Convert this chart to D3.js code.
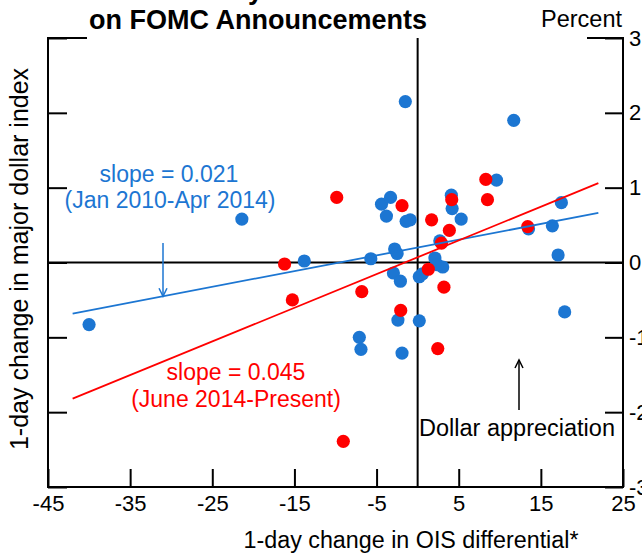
<!DOCTYPE html>
<html>
<head>
<meta charset="utf-8">
<script src="https://cdn.jsdelivr.net/npm/d3@7"></script>
<style>
  html, body { margin: 0; padding: 0; background: #fff; }
  svg { display: block; font-family: "Liberation Sans", Arial, Helvetica, sans-serif; }
</style>
</head>
<body>
<svg id="chart" width="642" height="554"></svg>
<script>
// Axis ticks
const xTicks = [-45, -35, -25, -15, -5, 5, 15, 25];
const yTicks = [-3, -2, -1, 0, 1, 2, 3];

// Jan 2010 - Apr 2014 announcements: change in OIS differential (bp), change in dollar index (%)
const blueX = [-40.0, -21.4, -13.8, -1.5, 11.7, 9.6, 4.1, 4.2, 5.3, 17.5, 16.4, 13.5, 17.1,
               -4.4, -3.3, -3.8, -1.4, -0.9, -5.7, -2.8, -2.5, 2.7, 2.1, 3.05, 2.4,
               -2.95, -2.1, 0.2, 0.6, -2.4, 0.2, -7.1, -6.9, -1.9, 17.9];
const blueY = [-0.83, 0.58, 0.02, 2.15, 1.90, 1.10, 0.90, 0.72, 0.58, 0.80, 0.49, 0.45, 0.10,
               0.78, 0.87, 0.62, 0.55, 0.57, 0.05, 0.18, 0.12, 0.29, 0.06, -0.06, -0.03,
               -0.14, -0.25, -0.19, -0.15, -0.77, -0.78, -1.00, -1.16, -1.21, -0.66];

// June 2014 - present announcements
const redX = [-16.2, -15.25, -9.85, -1.9, 1.7, 3.86, 4.15, 8.3, 8.5, 13.4, 2.9, 1.3,
              -6.8, -2.06, 3.2, 2.45, -9.05];
const redY = [-0.02, -0.50, 0.87, 0.76, 0.57, 0.43, 0.84, 1.11, 0.84, 0.48, 0.26, -0.09,
              -0.39, -0.64, -0.33, -1.15, -2.39];

// Fitted lines: slope and intercept, drawn over this x span
const blueFit = [0.021, 0.20];
const redFit = [0.045, 0.07];
const fitSpan = [-42, 22];

const BLUE = "#1c76d2";
const RED = "#ff0000";

const svg = d3.select("#chart");
const L = 48, R = 623, T = 38, B = 487;
const x = d3.scaleLinear().domain([-45, 25]).range([L, R]);
const y = d3.scaleLinear().domain([-3, 3]).range([B, T]);

// Title (first line sits above the visible area)
svg.append("text").attr("x", 263).attr("y", -1.5).attr("text-anchor", "end")
  .attr("font-size", 27).attr("font-weight", "bold").text("Dollar Sensitivity");
svg.append("text").attr("x", 258).attr("y", 29).attr("text-anchor", "middle")
  .attr("font-size", 27).attr("font-weight", "bold").text("on FOMC Announcements");
svg.append("text").attr("x", 622).attr("y", 27).attr("text-anchor", "end")
  .attr("font-size", 23.5).text("Percent");

// Axes with inward ticks; labels use a plain hyphen for negatives
const plain = d => String(d);
const styleAxis = g => {
  g.select(".domain").remove();
  g.selectAll(".tick line").attr("stroke", "#000").attr("stroke-width", 2);
  g.selectAll(".tick text").attr("fill", "#000").attr("font-size", 22)
    .attr("font-family", "Liberation Sans, Arial, sans-serif");
};
svg.append("g").attr("transform", `translate(0,${B})`)
  .call(d3.axisBottom(x).tickValues(xTicks).tickSizeInner(-18).tickSizeOuter(0).tickPadding(8).tickFormat(plain))
  .call(styleAxis);
svg.append("g").attr("transform", `translate(${R},0)`)
  .call(d3.axisRight(y).tickValues(yTicks).tickSizeInner(-18).tickSizeOuter(0).tickPadding(6).tickFormat(plain))
  .call(styleAxis);
svg.append("g").attr("transform", `translate(${L},0)`)
  .call(d3.axisLeft(y).tickValues(yTicks).tickSizeInner(-19).tickSizeOuter(0).tickPadding(48).tickFormat(plain))
  .call(styleAxis);

// Frame
const frame = svg.append("g").attr("stroke", "#000").attr("stroke-width", 2).attr("fill", "none");
frame.append("line").attr("x1", L).attr("x2", L).attr("y1", T - 1).attr("y2", B + 1);
frame.append("line").attr("x1", R).attr("x2", R).attr("y1", T - 1).attr("y2", B + 1);
frame.append("line").attr("x1", L).attr("x2", R).attr("y1", B).attr("y2", B);
frame.append("line").attr("x1", L).attr("x2", 87).attr("y1", T).attr("y2", T);
frame.append("line").attr("x1", 587).attr("x2", R).attr("y1", T).attr("y2", T);

// Zero lines
frame.append("line").attr("x1", L).attr("x2", R).attr("y1", y(0)).attr("y2", y(0));
frame.append("line").attr("x1", x(0)).attr("x2", x(0)).attr("y1", T).attr("y2", B);

// Points
const r = 6.6;
svg.append("g").selectAll("circle").data(d3.range(blueX.length)).join("circle")
  .attr("cx", i => x(blueX[i])).attr("cy", i => y(blueY[i])).attr("r", r).attr("fill", BLUE);
svg.append("g").selectAll("circle").data(d3.range(redX.length)).join("circle")
  .attr("cx", i => x(redX[i])).attr("cy", i => y(redY[i])).attr("r", r).attr("fill", RED);

// Fitted lines
const fitLine = f => d3.line().x(d => x(d)).y(d => y(f[0] * d + f[1]))(fitSpan);
svg.append("path").attr("d", fitLine(blueFit)).attr("stroke", BLUE).attr("stroke-width", 1.8).attr("fill", "none");
svg.append("path").attr("d", fitLine(redFit)).attr("stroke", RED).attr("stroke-width", 1.8).attr("fill", "none");

// Annotation arrows
function arrow(xv, y0, y1, color, head) {
  const g = svg.append("g").attr("stroke", color).attr("stroke-width", 1.5).attr("fill", "none");
  g.append("line").attr("x1", xv).attr("x2", xv).attr("y1", y0).attr("y2", y1);
  const dir = y1 > y0 ? -1 : 1;
  g.append("path").attr("d", `M${xv - 4},${y1 + dir * head} L${xv},${y1} L${xv + 4},${y1 + dir * head}`);
}
const arrowX = -31;
arrow(x(arrowX), 243, y(blueFit[0] * arrowX + blueFit[1]), BLUE, 8);
arrow(519, 410, 360, "#000", 8);

// Labels
svg.append("text").attr("x", 169).attr("y", 182).attr("text-anchor", "middle")
  .attr("font-size", 23).attr("fill", BLUE).text("slope = 0.021");
svg.append("text").attr("x", 170).attr("y", 208).attr("text-anchor", "middle")
  .attr("font-size", 23).attr("fill", BLUE).text("(Jan 2010-Apr 2014)");
svg.append("text").attr("x", 236).attr("y", 380).attr("text-anchor", "middle")
  .attr("font-size", 23).attr("fill", RED).text("slope = 0.045");
svg.append("text").attr("x", 236).attr("y", 407).attr("text-anchor", "middle")
  .attr("font-size", 23).attr("fill", RED).text("(June 2014-Present)");
svg.append("text").attr("x", 517).attr("y", 436).attr("text-anchor", "middle")
  .attr("font-size", 23.5).attr("fill", "#000").text("Dollar appreciation");

// Axis titles
svg.append("text").attr("x", 411).attr("y", 548).attr("text-anchor", "middle")
  .attr("font-size", 23.3).text("1-day change in OIS differential*");
svg.append("text").attr("transform", "translate(28,259) rotate(-90)").attr("text-anchor", "middle")
  .attr("font-size", 25).text("1-day change in major dollar index");
</script>
</body>
</html>
